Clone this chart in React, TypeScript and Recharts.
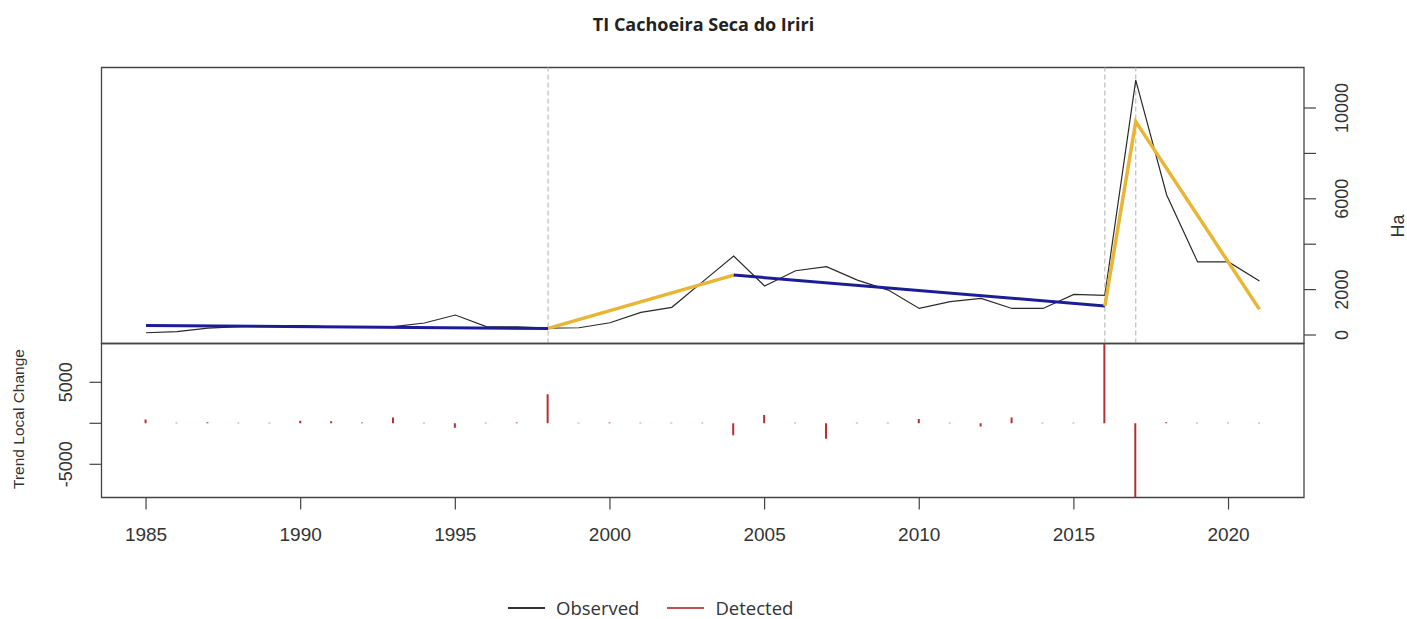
import React from 'react';
import { ComposedChart, Line, Bar, XAxis, YAxis, ReferenceLine, ReferenceArea } from 'recharts';

// ---- data ----
const years = [1985, 1986, 1987, 1988, 1989, 1990, 1991, 1992, 1993, 1994, 1995, 1996, 1997, 1998, 1999, 2000, 2001, 2002, 2003, 2004, 2005, 2006, 2007, 2008, 2009, 2010, 2011, 2012, 2013, 2014, 2015, 2016, 2017, 2018, 2019, 2020, 2021];
const observed = [100, 150, 300, 370, 420, 420, 360, 330, 370, 530, 880, 370, 360, 300, 320, 540, 1000, 1220, 2350, 3480, 2160, 2830, 3010, 2420, 1980, 1170, 1470, 1610, 1170, 1170, 1790, 1750, 11230, 6170, 3220, 3220, 2380];
const localChange = [450, 60, 120, 60, 60, 300, 250, 100, 700, 60, -550, 60, 100, 3540, 60, 100, 60, 60, 60, -1460, 1020, 60, -1870, 60, 60, 530, 60, -400, 700, 60, 60, 9732, -9049, 120, 60, 60, 60];

// fitted trend segments (values at breakpoints)
const blueSeg1Years = [1985, 1998];
const blueSeg1Values = [420, 290];
const yellowSeg1Years = [1998, 2004];
const yellowSeg1Values = [290, 2640];
const blueSeg2Years = [2004, 2016];
const blueSeg2Values = [2640, 1280];
const yellowSeg2Years = [2016, 2017, 2021];
const yellowSeg2Values = [1280, 9400, 1130];

const breakYears = [1998, 2016, 2017];
const xTicks = [1985, 1990, 1995, 2000, 2005, 2010, 2015, 2020];
const topTicks = [0, 2000, 4000, 6000, 8000, 10000];
const topTickLabels = [0, 2000, 6000, 10000];
const bottomTicks = [-5000, 0, 5000];
const bottomTickLabels = [-5000, 5000];
const legendItems = [
  { name: 'Observed', color: '#333333' },
  { name: 'Detected', color: '#c0504d' },
];

const xDomain: [number, number] = [1983.56, 2022.44];
const topDomain: [number, number] = [-374, 11784];
const bottomDomain: [number, number] = [-9049, 9732];

const rows = years.map((y, i) => {
  const r: any = { year: y, obs: observed[i], lc: localChange[i] };
  const put = (ys: number[], vs: number[], key: string) => {
    const k = ys.indexOf(y);
    r[key] = k >= 0 ? vs[k] : null;
  };
  put(blueSeg1Years, blueSeg1Values, 'b1');
  put(yellowSeg1Years, yellowSeg1Values, 'y1');
  put(blueSeg2Years, blueSeg2Values, 'b2');
  put(yellowSeg2Years, yellowSeg2Values, 'y2');
  return r;
});

const FONT = '"Liberation Sans", Arial, sans-serif';
const TXT = '#333';
const BLUE = '#1c1c96';
const YELLOW = '#e8b534';

const RightTick = (props: any) => {
  const { x, y, payload } = props;
  if (!topTickLabels.includes(payload.value)) return <g />;
  const tx = x + 32;
  return (
    <text x={tx} y={y} transform={`rotate(-90, ${tx}, ${y})`} textAnchor="middle" fontSize={18} fontFamily={FONT} fill={TXT}>
      {payload.value}
    </text>
  );
};

const LeftTick = (props: any) => {
  const { x, y, payload } = props;
  if (!bottomTickLabels.includes(payload.value)) return <g />;
  const tx = x - 17;
  return (
    <text x={tx} y={y} transform={`rotate(-90, ${tx}, ${y})`} textAnchor="middle" fontSize={18} fontFamily={FONT} fill={TXT}>
      {payload.value}
    </text>
  );
};

export default function App() {
  return (
    <div style={{ position: 'absolute', left: 0, top: 0, width: 1407, height: 619, background: '#fff', overflow: 'hidden' }}>
      {/* title */}
      <div style={{ position: 'absolute', top: 12, left: 0, width: 1407, textAlign: 'center', fontFamily: '"Open Sans", sans-serif', fontWeight: 700, fontSize: 18, color: '#222' }}>
        TI Cachoeira Seca do Iriri
      </div>

      {/* top panel */}
      <div style={{ position: 'absolute', left: 0, top: 0 }}>
        <ComposedChart width={1407} height={619} data={rows} margin={{ top: 67.5, right: 43, bottom: 275.5, left: 101.5 }}>
          <XAxis dataKey="year" type="number" domain={xDomain} allowDataOverflow hide />
          <YAxis
            yAxisId="t"
            orientation="right"
            width={60}
            type="number"
            domain={topDomain}
            allowDataOverflow
            ticks={topTicks}
            interval={0}
            tickSize={12}
            tickMargin={0}
            axisLine={false}
            tickLine={{ stroke: '#444', strokeWidth: 1.2 }}
            tick={<RightTick />}
          />
          {breakYears.map((b) => (
            <ReferenceLine key={b} yAxisId="t" x={b} stroke="#bdbdbd" strokeWidth={1.2} strokeDasharray="5 3" />
          ))}
          <Line yAxisId="t" dataKey="obs" stroke="#2a2a2a" strokeWidth={1.2} dot={false} isAnimationActive={false} />
          <Line yAxisId="t" dataKey="b1" stroke={BLUE} strokeWidth={3} dot={false} connectNulls isAnimationActive={false} />
          <Line yAxisId="t" dataKey="y1" stroke={YELLOW} strokeWidth={3.5} dot={false} connectNulls isAnimationActive={false} />
          <Line yAxisId="t" dataKey="b2" stroke={BLUE} strokeWidth={3} dot={false} connectNulls isAnimationActive={false} />
          <Line yAxisId="t" dataKey="y2" stroke={YELLOW} strokeWidth={3.5} dot={false} connectNulls isAnimationActive={false} />
          <ReferenceArea yAxisId="t" x1={xDomain[0]} x2={xDomain[1]} y1={topDomain[0]} y2={topDomain[1]} fill="none" fillOpacity={0} stroke="#444" strokeWidth={1.3} ifOverflow="visible" />
        </ComposedChart>
      </div>

      {/* bottom panel */}
      <div style={{ position: 'absolute', left: 0, top: 0 }}>
        <ComposedChart width={1407} height={619} data={rows} margin={{ top: 343.5, right: 103, bottom: 81.5, left: 41.5 }}>
          <XAxis
            dataKey="year"
            type="number"
            domain={xDomain}
            allowDataOverflow
            ticks={xTicks}
            interval={0}
            height={40}
            tickSize={12}
            tickMargin={18}
            axisLine={false}
            tickLine={{ stroke: '#444', strokeWidth: 1.2 }}
            tick={{ fontSize: 19, fontFamily: FONT, fill: TXT }}
          />
          <YAxis
            yAxisId="b"
            orientation="left"
            width={60}
            type="number"
            domain={bottomDomain}
            allowDataOverflow
            ticks={bottomTicks}
            interval={0}
            tickSize={12}
            tickMargin={0}
            axisLine={false}
            tickLine={{ stroke: '#444', strokeWidth: 1.2 }}
            tick={<LeftTick />}
          />
          <Bar yAxisId="b" dataKey="lc" fill="#b5302f" barSize={2} isAnimationActive={false} />
          <ReferenceArea yAxisId="b" x1={xDomain[0]} x2={xDomain[1]} y1={bottomDomain[0]} y2={bottomDomain[1]} fill="none" fillOpacity={0} stroke="#444" strokeWidth={1.3} ifOverflow="visible" />
        </ComposedChart>
      </div>

      {/* axis titles */}
      <div style={{ position: 'absolute', left: 1398, top: 226, width: 0, height: 0 }}>
        <div style={{ position: 'absolute', transform: 'translate(-50%, -50%) rotate(-90deg)', fontFamily: FONT, fontSize: 18, color: TXT, whiteSpace: 'nowrap' }}>Ha</div>
      </div>
      <div style={{ position: 'absolute', left: 19, top: 419, width: 0, height: 0 }}>
        <div style={{ position: 'absolute', transform: 'translate(-50%, -50%) rotate(-90deg)', fontFamily: FONT, fontSize: 15.5, color: TXT, whiteSpace: 'nowrap' }}>Trend Local Change</div>
      </div>

      {/* legend */}
      <div style={{ position: 'absolute', left: 508, top: 597, width: 320, height: 21, display: 'flex', alignItems: 'center', fontFamily: '"Open Sans", sans-serif', fontSize: 18.5, lineHeight: '21px', color: '#333', whiteSpace: 'nowrap' }}>
        {legendItems.map((it, i) => (
          <div key={it.name} style={{ display: 'flex', alignItems: 'center', marginRight: i === 0 ? 28 : 0 }}>
            <div style={{ width: 37, height: 2, background: it.color, marginRight: 11 }} />
            <span>{it.name}</span>
          </div>
        ))}
      </div>
    </div>
  );
}
